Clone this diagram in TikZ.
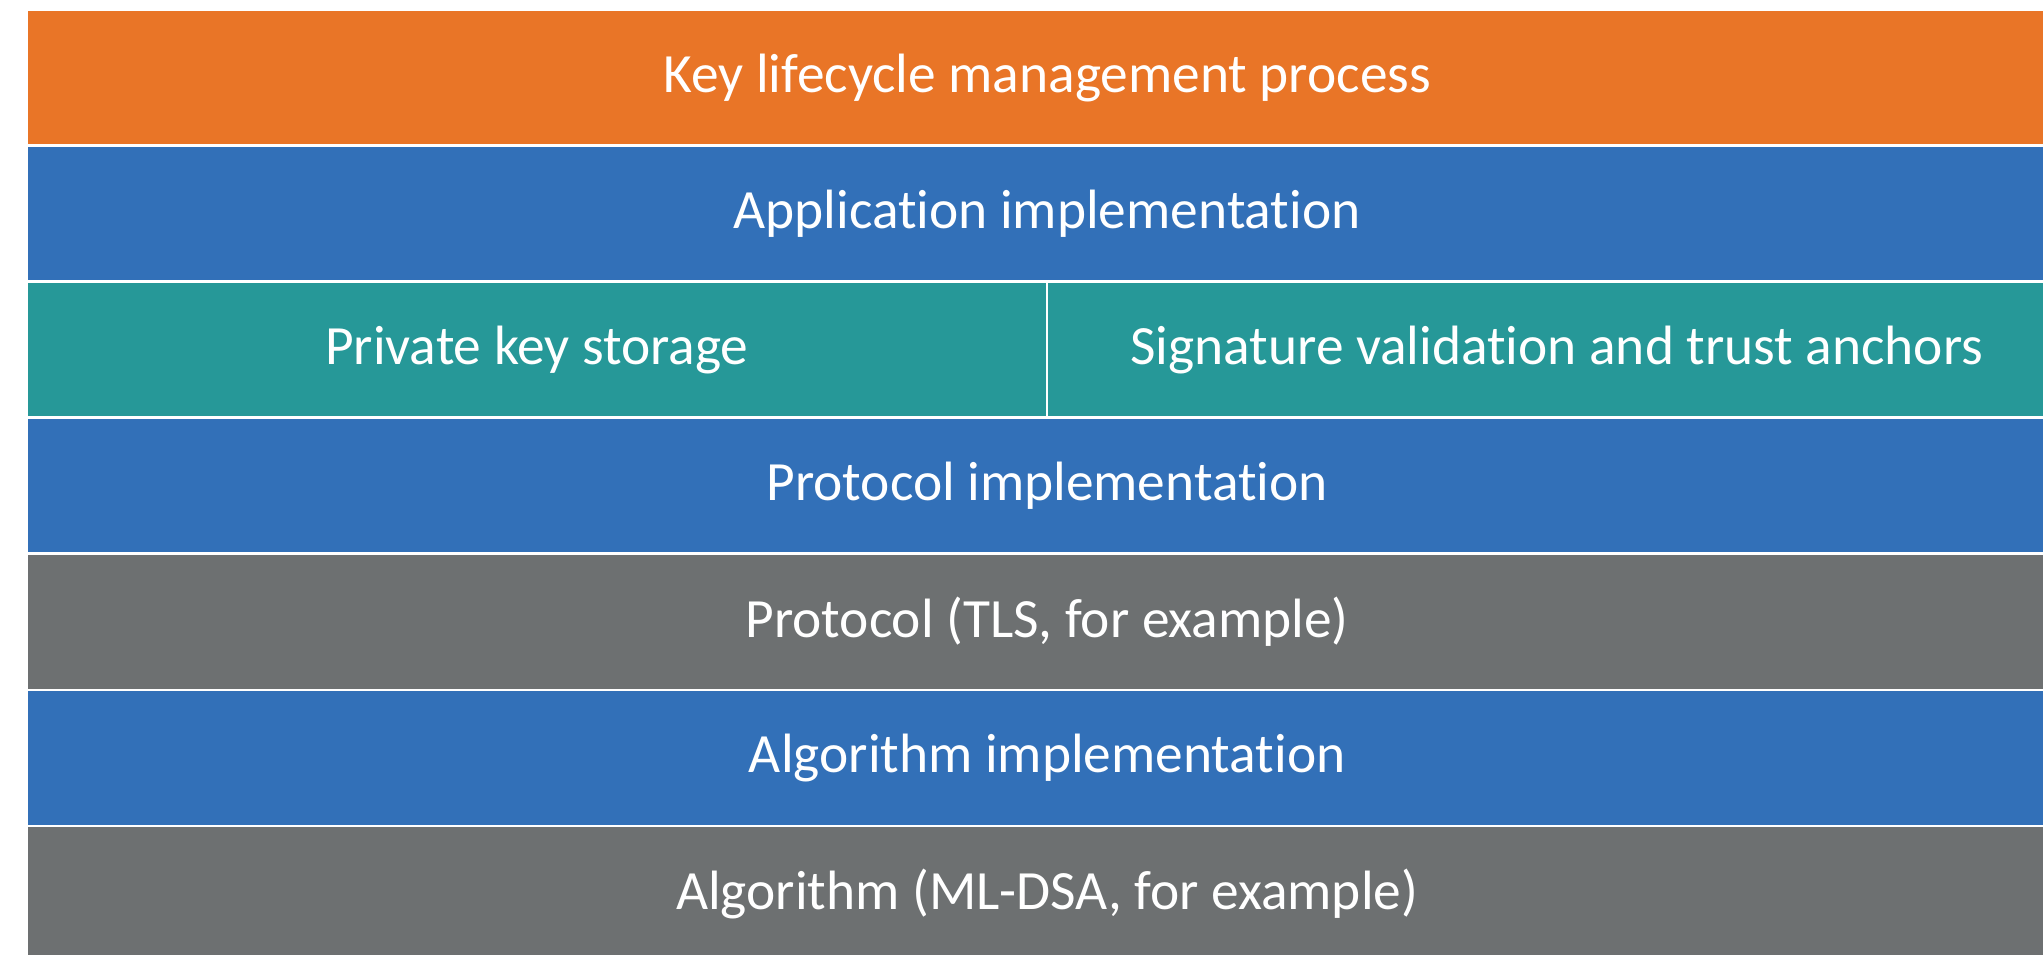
\documentclass[tikz,border=0pt]{standalone}
\usepackage{fontspec}
\setmainfont{Carlito}[Ligatures=NoCommon]
\definecolor{keyorange}{RGB}{233,117,39}
\definecolor{implblue}{RGB}{50,112,184}
\definecolor{storeteal}{RGB}{38,152,152}
\definecolor{specgray}{RGB}{109,112,113}

\begin{document}
\begin{tikzpicture}
        [x=0.5pt, y=-0.5pt,
        layer/.style={rectangle, anchor=north west, inner sep=0pt, minimum width=1019.25pt, minimum height=66.65pt, text=white, font=\fontsize{27.7}{32}\selectfont},
        halfLayer/.style={layer, minimum width=508.8pt}]
        \clip (0,0) rectangle (2043,954);
        \fill[white] (0,0) rectangle (2043,954);

        \node[layer, fill=keyorange] (lifecycle) at (27.5,10.5) {Key lifecycle management process};
        \node[layer, fill=implblue] (application) at (27.5,146.7) {Application implementation};
        \node[halfLayer, fill=storeteal] (privkey) at (27.5,282.7) {Private key storage};
        \node[halfLayer, fill=storeteal] (trust) at (1047.7,282.7) {Signature validation and trust anchors};
        \node[layer, fill=implblue] (protoimpl) at (27.5,418.7) {Protocol implementation};
        \node[layer, fill=specgray] (protocol) at (27.5,554.8) {Protocol (TLS, for example)};
        \node[layer, fill=implblue] (algoimpl) at (27.5,690.8) {Algorithm implementation};
        \node[layer, fill=specgray] (algorithm) at (27.5,826.9) {Algorithm (ML-DSA, for example)};

    \end{tikzpicture}
\end{document}
